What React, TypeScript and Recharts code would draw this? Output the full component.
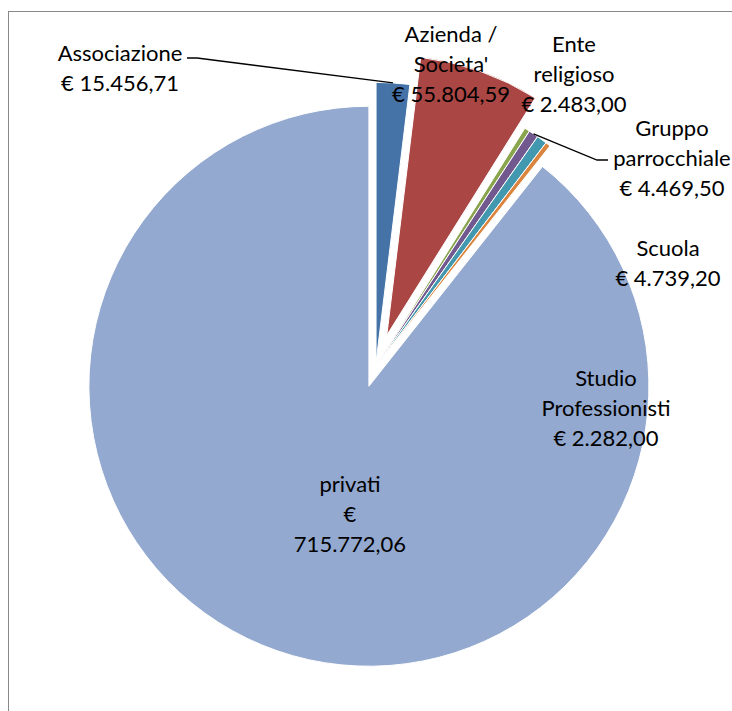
import React from 'react';
import { PieChart, Pie, Cell } from 'recharts';

// donation totals per donor type
const categories = [
  'Associazione',
  "Azienda / Societa'",
  'Ente religioso',
  'Gruppo parrocchiale',
  'Scuola',
  'Studio Professionisti',
  'privati',
];
const amounts = [15456.71, 55804.59, 2483.0, 4469.5, 4739.2, 2282.0, 715772.06];
const labelRows = [
  ['Associazione'],
  ['Azienda /', "Societa'"],
  ['Ente', 'religioso'],
  ['Gruppo', 'parrocchiale'],
  ['Scuola'],
  ['Studio', 'Professionisti'],
  ['privati'],
];

const sliceColors = ['#4572A7', '#AA4643', '#89A54E', '#71588F', '#4198AF', '#DB843D', '#93A9CF'];
const explode = [4, 33, 1, 1, 1, 1, 21];
// centre of first label row, chart pixels
const labelSpots = [
  [111, 40],
  [442, 21],
  [565, 31],
  [663, 115],
  [659, 235],
  [597, 365],
  [341, 471],
];
const wrapValue = [false, false, false, false, false, false, true];
// leader line bends (chart pixels), from the slice edge to the label
const leaderBends: Record<number, number[][]> = {
  0: [[188, 46], [178, 46]],
  3: [[588, 148], [599, 148]],
};

const W = 723;
const H = 699;
const CX = 366.8;
const CY = 354.4;
const R = 280;
const RAD = Math.PI / 180;
const LINE = 30;
const FONT = 'Lato, "Open Sans", sans-serif';

const data = categories.map((name, i) => ({ name, value: amounts[i] }));
const total = amounts.reduce((a, b) => a + b, 0);
const mids = amounts.map((v, i) => {
  const before = amounts.slice(0, i).reduce((a, b) => a + b, 0);
  return 90 - (360 * (before + v / 2)) / total;
});

function euro(v: number) {
  const [int, dec] = v.toFixed(2).split('.');
  return int.replace(/\B(?=(\d{3})+(?!\d))/g, '.') + ',' + dec;
}

function renderLabel(props: any) {
  const { index } = props;
  const mid = props.midAngle ?? mids[index];
  const cx = props.cx ?? CX;
  const cy = props.cy ?? CY;
  const rows = wrapValue[index]
    ? [...labelRows[index], '€', euro(amounts[index])]
    : [...labelRows[index], '€ ' + euro(amounts[index])];
  const [lx, ly] = labelSpots[index];
  const bends = leaderBends[index];
  let line = null;
  if (bends) {
    const d = R + explode[index];
    const sx = cx + d * Math.cos(mid * RAD);
    const sy = cy - d * Math.sin(mid * RAD);
    const pts = [[sx, sy], ...bends].map((p) => p.join(',')).join(' ');
    line = <polyline points={pts} fill="none" stroke="#000" strokeWidth={1.3} />;
  }
  return (
    <g key={'lbl' + index}>
      {line}
      {rows.map((t, k) => (
        <text
          key={k}
          x={lx}
          y={ly + k * LINE}
          textAnchor="middle"
          dominantBaseline="central"
          fontFamily={FONT}
          fontSize={22}
          fill="#000"
        >
          {t}
        </text>
      ))}
    </g>
  );
}

export default function App() {
  // draw privati first so the small labels stay on top
  const order = [6, 0, 1, 2, 3, 4, 5];
  return (
    <div
      style={{
        position: 'absolute',
        left: 8,
        top: 11,
        width: 724,
        height: 700,
        borderLeft: '1px solid #888',
        borderTop: '1px solid #888',
      }}
    >
      <PieChart width={W} height={H} margin={{ top: 0, right: 0, bottom: 0, left: 0 }}>
        {order.map((i) => (
          <Pie
            key={'slice' + i}
            data={data}
            dataKey="value"
            nameKey="name"
            cx={CX + explode[i] * Math.cos(mids[i] * RAD)}
            cy={CY - explode[i] * Math.sin(mids[i] * RAD)}
            outerRadius={R}
            startAngle={90}
            endAngle={-270}
            label={false}
            labelLine={false}
            isAnimationActive={false}
          >
            {data.map((_, j) => (
              <Cell
                key={j}
                fill={j === i ? sliceColors[j] : 'none'}
                stroke={j === i ? '#fff' : 'none'}
                strokeWidth={1}
              />
            ))}
          </Pie>
        ))}
        <Pie
          key="labels"
          data={data}
          dataKey="value"
          nameKey="name"
          cx={CX}
          cy={CY}
          outerRadius={R}
          startAngle={90}
          endAngle={-270}
          label={renderLabel}
          labelLine={false}
          isAnimationActive={false}
        >
          {data.map((_, j) => (
            <Cell key={j} fill="none" stroke="none" />
          ))}
        </Pie>
      </PieChart>
    </div>
  );
}
